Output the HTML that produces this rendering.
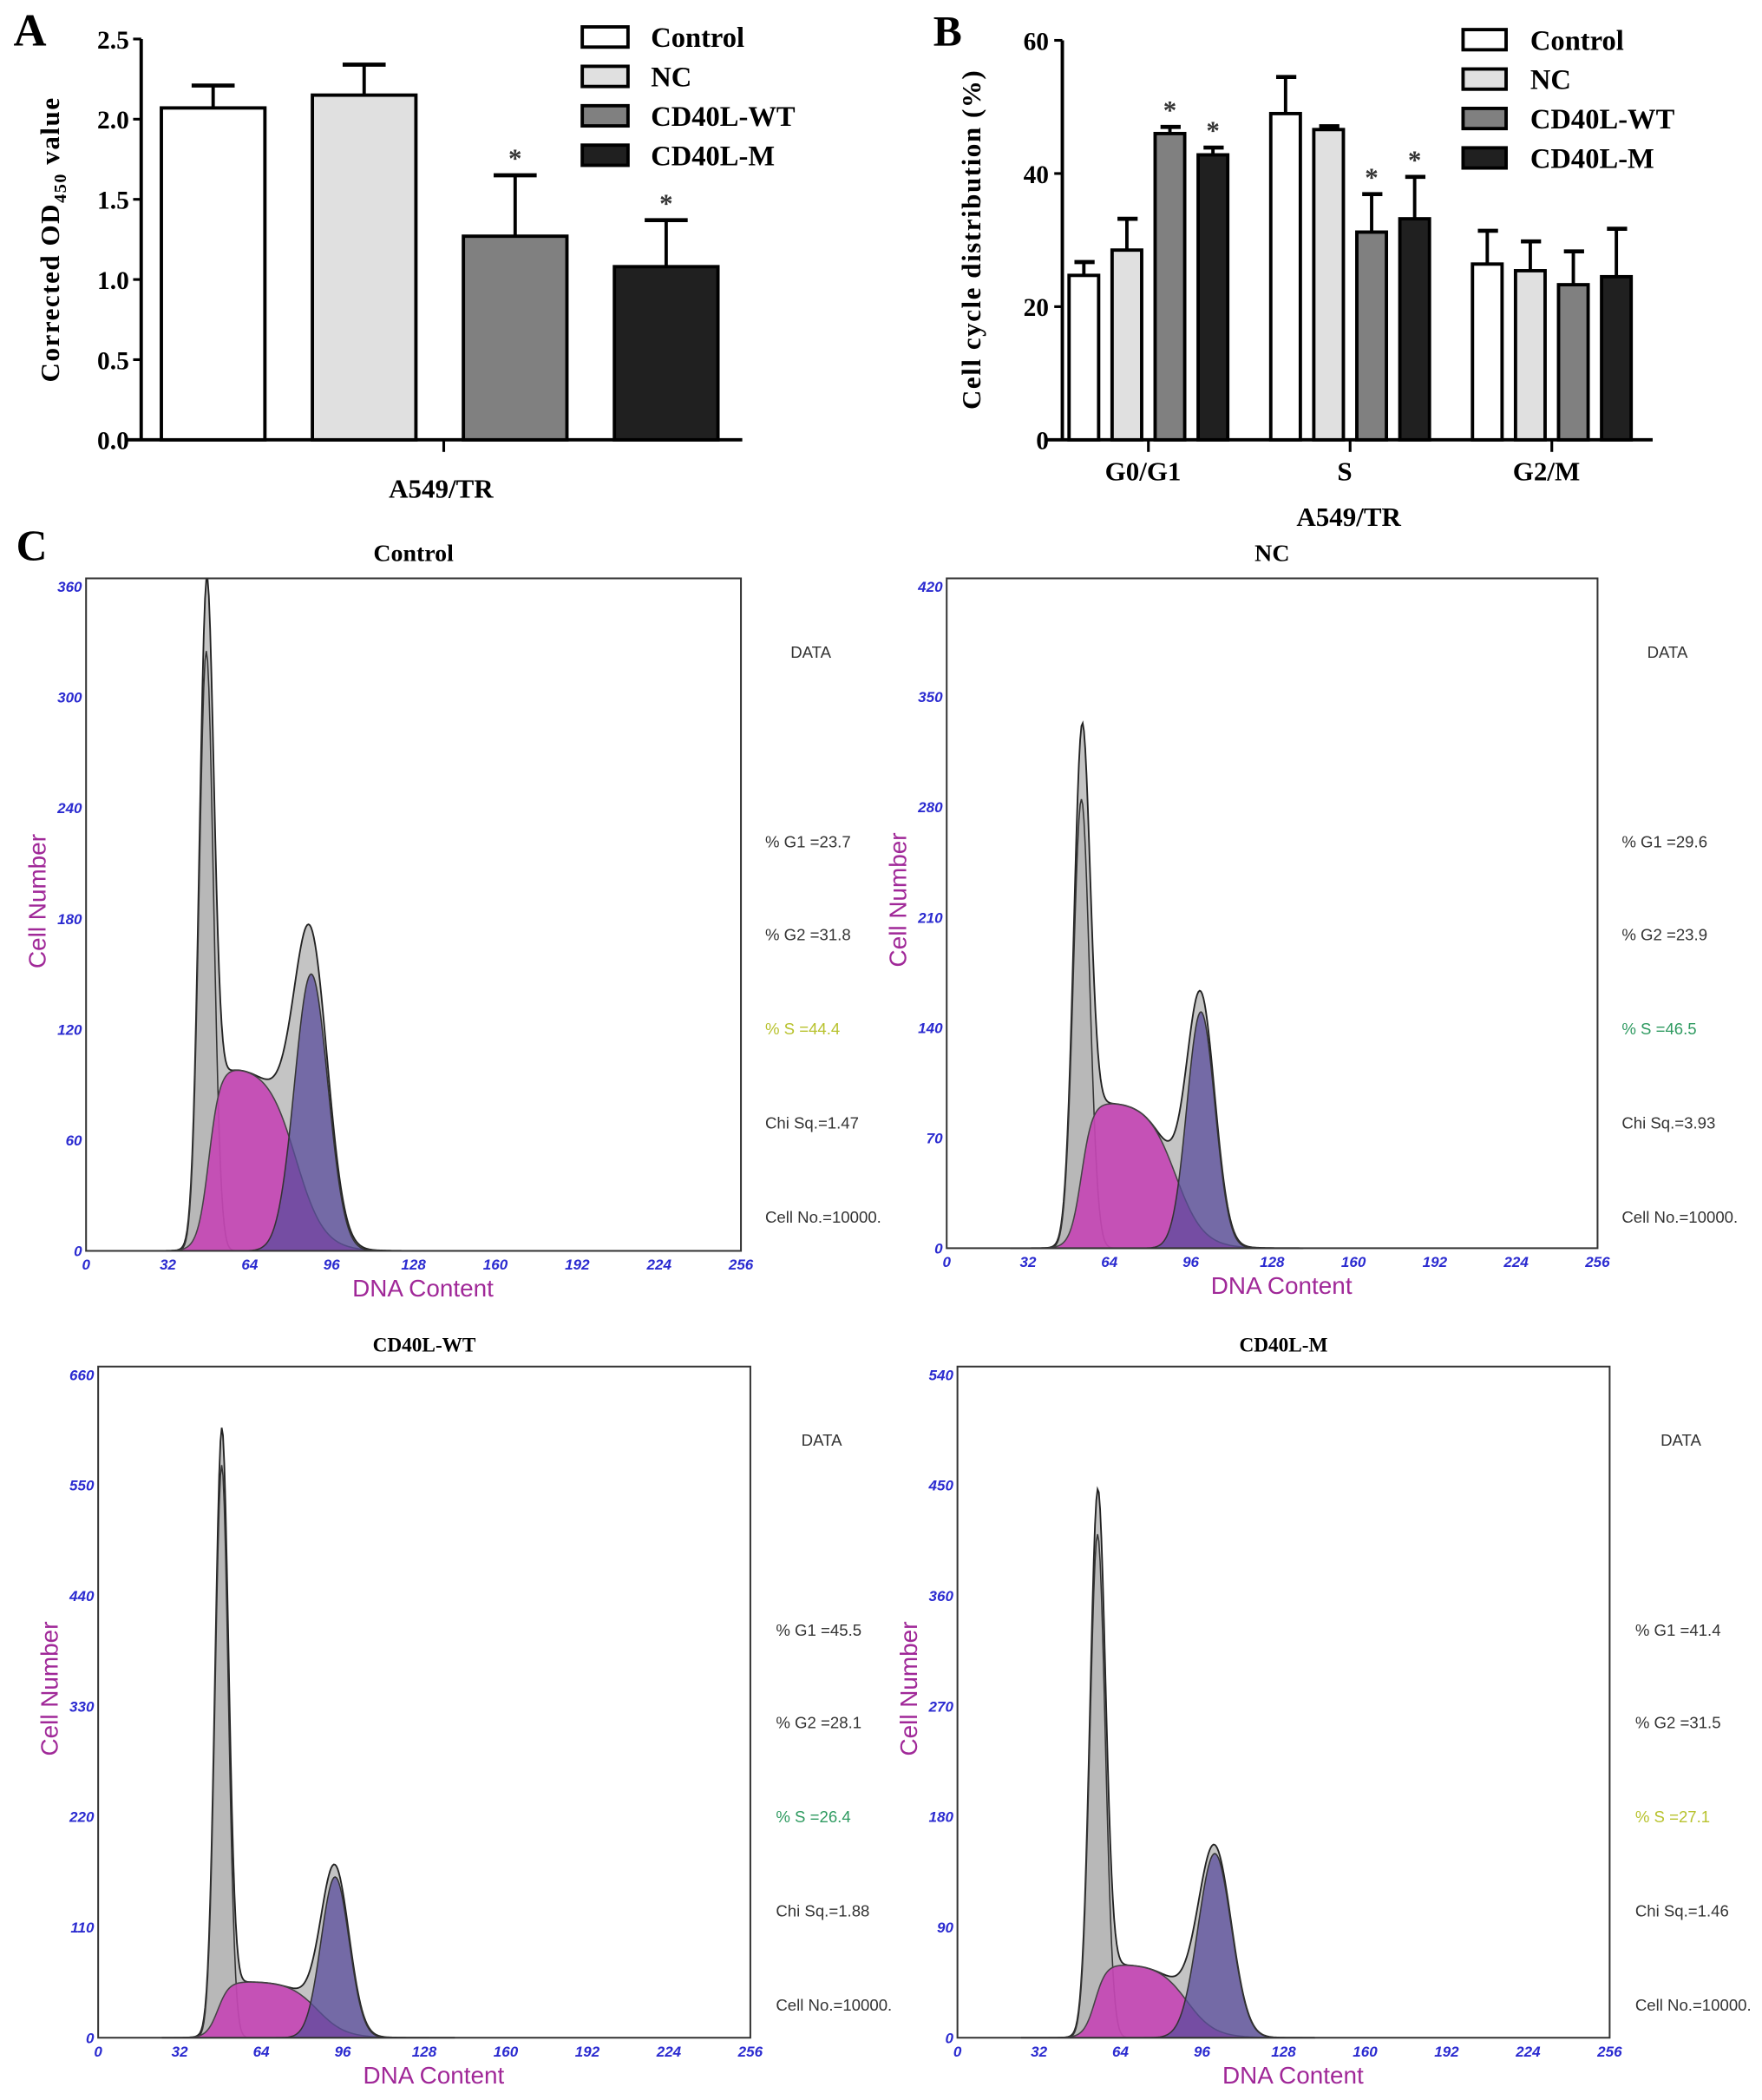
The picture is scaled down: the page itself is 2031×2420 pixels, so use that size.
<!DOCTYPE html>
<html><head><meta charset="utf-8"><style>
html,body{margin:0;padding:0;background:#fff}
svg{display:block}
.serif{font-family:"Liberation Serif",serif;font-weight:bold}
.sans{font-family:"Liberation Sans",sans-serif}
</style></head><body>
<svg id="fig" width="2031" height="2420" viewBox="0 0 1310.3 1561.3" preserveAspectRatio="none" xmlns="http://www.w3.org/2000/svg">
<g id="A"></g>
<g id="B"></g>
<g id="C"></g>
</svg>
<script>
// ---- Panel A data ----
const aGroups = ["Control","NC","CD40L-WT","CD40L-M"];
const aValues = [2.07, 2.15, 1.27, 1.08];
const aErrors = [0.14, 0.19, 0.38, 0.29];
const aStars = [false, false, true, true];
const aTicks = [0.0, 0.5, 1.0, 1.5, 2.0, 2.5];
const fills = ["#ffffff","#e0e0e0","#808080","#202020"];
// ---- Panel B data ----
const bPhases = ["G0/G1","S","G2/M"];
const bControl = [24.7, 49.0, 26.4];
const bNC = [28.5, 46.6, 25.4];
const bWT = [46.0, 31.2, 23.3];
const bM = [42.8, 33.2, 24.5];
const bErrControl = [2.0, 5.5, 5.0];
const bErrNC = [4.7, 0.5, 4.4];
const bErrWT = [1.0, 5.7, 5.0];
const bErrM = [1.1, 6.3, 7.2];
const bStarWT = [true, true, false];
const bStarM = [true, true, false];
const bTicks = [0, 20, 40, 60];
// ---- Panel C data (fitted model components per sample) ----
const cTitles = ["Control","NC","CD40L-WT","CD40L-M"];
const cYMax = [360, 420, 660, 540];
const cG1Mean = [47, 53, 48.5, 55];
const cG1Sd = [2.8, 3.2, 2.6, 3.0];
const cG1Height = [325, 285, 570, 410];
const cSHeight = [100, 93, 56, 60];
const cSStart = [53, 58, 52, 59];
const cSEnd = [82, 90, 86, 90];
const cG2Mean = [88, 100, 93, 101];
const cG2Sd = [6.5, 5.5, 5.5, 6.5];
const cG2Height = [150, 150, 160, 150];
const cG1Pct = ["23.7","29.6","45.5","41.4"];
const cG2Pct = ["31.8","23.9","28.1","31.5"];
const cSPct = ["44.4","46.5","26.4","27.1"];
const cChi = ["1.47","3.93","1.88","1.46"];
const cXTicks = [0,32,64,96,128,160,192,224,256];

const NS="http://www.w3.org/2000/svg";
function el(parent, tag, attrs, text){
  const e=document.createElementNS(NS,tag);
  for(const k in attrs) e.setAttribute(k,attrs[k]);
  if(text!==undefined) e.textContent=text;
  parent.appendChild(e); return e;
}

// ===== Panel A =====
(function(){
  const g=document.getElementById('A');
  const x0=105, yB=327, yT=29;
  const y=v=>yB-(v-0)/(2.5)*(yB-yT);
  const barX=i=>120+i*112.3, bw=77;
  let t=el(g,'text',{x:10,y:34,'font-size':34,class:'serif'},'A');
   
  let ax=el(g,'line',{x1:x0,y1:yT,x2:x0,y2:yB+1,stroke:'#000','stroke-width':2.5});
   
  let xa=el(g,'line',{x1:95,y1:yB,x2:552,y2:yB,stroke:'#000','stroke-width':2.5});
   
  el(g,'line',{x1:330,y1:yB,x2:330,y2:yB+9,stroke:'#000','stroke-width':2});
  aTicks.forEach(v=>{
    el(g,'line',{x1:x0-6,y1:y(v),x2:x0,y2:y(v),stroke:'#000','stroke-width':2});
    let tl=el(g,'text',{x:x0-9,y:y(v)+7,'font-size':19,'text-anchor':'end',class:'serif'},v.toFixed(1));
     
  });
  aValues.forEach((v,i)=>{
    const bx=barX(i), cx=bx+bw/2, top=y(v), et=y(v+aErrors[i]);
    el(g,'line',{x1:cx,y1:top,x2:cx,y2:et,stroke:'#000','stroke-width':2.5});
    el(g,'line',{x1:cx-16,y1:et,x2:cx+16,y2:et,stroke:'#000','stroke-width':3});
    let r=el(g,'rect',{x:bx,y:top,width:bw,height:yB-top,fill:fills[i],stroke:'#000','stroke-width':2.5});
    
    
    if(aStars[i]){ el(g,'text',{x:cx,y:et-6,'font-size':20,'text-anchor':'middle',class:'serif',fill:'#333'},'*'); }
  });
  let xl=el(g,'text',{x:328,y:370,'font-size':20,'text-anchor':'middle',class:'serif'},'A549/TR');
   
  let yl=el(g,'text',{transform:'translate(44,178) rotate(-90)','font-size':20,'text-anchor':'middle',class:'serif','letter-spacing':'1'});
   
  el(yl,'tspan',{},'Corrected  OD');
  el(yl,'tspan',{'font-size':13,dy:5},'450');
  el(yl,'tspan',{dy:-5},' value');
  aGroups.forEach((n,i)=>{
    const ly=20+i*29.3;
    let lr=el(g,'rect',{x:433,y:ly,width:34,height:15,fill:fills[i],stroke:'#000','stroke-width':2.5});
     
    let lt=el(g,'text',{x:484,y:ly+15,'font-size':21,class:'serif'},n);
     
  });
})();

// ===== Panel B =====
(function(){
  const g=document.getElementById('B');
  const x0=790, yB=327, yT=30;
  const y=v=>yB-v/60*(yB-yT);
  const series=[bControl,bNC,bWT,bM], errs=[bErrControl,bErrNC,bErrWT,bErrM];
  const groupStart=p=>795+p*150, step=32, bw=22;
  let t=el(g,'text',{x:694,y:34,'font-size':32,class:'serif'},'B');
   
  let ax=el(g,'line',{x1:x0,y1:yT,x2:x0,y2:yB+1,stroke:'#000','stroke-width':2.5});
   
  let xa=el(g,'line',{x1:778,y1:yB,x2:1229,y2:yB,stroke:'#000','stroke-width':2.5});
   
  bTicks.forEach(v=>{
    el(g,'line',{x1:x0-6,y1:y(v),x2:x0,y2:y(v),stroke:'#000','stroke-width':2});
    let tl=el(g,'text',{x:x0-10,y:y(v)+7,'font-size':19,'text-anchor':'end',class:'serif'},String(v));
     
  });
  bPhases.forEach((ph,p)=>{
    const gc=groupStart(p)+(3*step+bw)/2;
    el(g,'line',{x1:gc,y1:yB,x2:gc,y2:yB+9,stroke:'#000','stroke-width':2});
    let tl=el(g,'text',{x:gc-4,y:357,'font-size':20,'text-anchor':'middle',class:'serif'},ph);
     
    series.forEach((s,i)=>{
      const bx=groupStart(p)+i*step, cx=bx+bw/2, top=y(s[p]), et=y(s[p]+errs[i][p]);
      el(g,'line',{x1:cx,y1:top,x2:cx,y2:et,stroke:'#000','stroke-width':2.5});
      el(g,'line',{x1:cx-7,y1:et,x2:cx+8,y2:et,stroke:'#000','stroke-width':3});
      let r=el(g,'rect',{x:bx,y:top,width:bw,height:yB-top,fill:fills[i],stroke:'#000','stroke-width':2.5});
      
      
      const star=(i===2&&bStarWT[p])||(i===3&&bStarM[p]);
      if(star) el(g,'text',{x:cx,y:et-6,'font-size':20,'text-anchor':'middle',class:'serif',fill:'#333'},'*');
    });
  });
  let xl=el(g,'text',{x:1003,y:391,'font-size':20,'text-anchor':'middle',class:'serif'},'A549/TR');
   
  let yl=el(g,'text',{transform:'translate(729,178) rotate(-90)','font-size':20,'text-anchor':'middle',class:'serif','letter-spacing':'1'},'Cell cycle distribution (%)');
   
  aGroups.forEach((n,i)=>{
    const ly=22+i*29.3;
    let lr=el(g,'rect',{x:1088,y:ly,width:32,height:15,fill:fills[i],stroke:'#000','stroke-width':2.5});
     
    let lt=el(g,'text',{x:1138,y:ly+15,'font-size':21,class:'serif'},n);
     
  });
})();

// ===== Panel C =====
(function(){
  const g=document.getElementById('C');
  let t=el(g,'text',{x:12,y:416,'font-size':32,class:'serif'},'C');
   
  const boxes=[
    {l:64,r:551,top:430,bot:930,tx:569,tt:417,sCol:'#b8c22e'},
    {l:704,r:1188,top:430,bot:928,tx:1206,tt:417,sCol:'#2e9a60'},
    {l:73,r:558,top:1016,bot:1515,tx:577,tt:1005,sCol:'#2e9a60'},
    {l:712,r:1197,top:1016,bot:1515,tx:1216,tt:1005,sCol:'#b8c22e'}
  ];
  const sig=z=>1/(1+Math.exp(-z));
  boxes.forEach((b,k)=>{
    const pg=el(g,'g',{});
    
    
    const X=c=>b.l+c/256*(b.r-b.l);
    const Y=v=>b.bot-v/cYMax[k]*(b.bot-b.top-6);
    const g1=c=>cG1Height[k]*Math.exp(-0.5*Math.pow((c-cG1Mean[k])/cG1Sd[k],2));
    const g2=c=>cG2Height[k]*Math.exp(-0.5*Math.pow((c-cG2Mean[k])/cG2Sd[k],2));
    const sp=c=>cSHeight[k]*sig((c-cSStart[k]+5)/2.2)*sig((cSEnd[k]-c)/5.5);
    const path=f=>{
      let d='M'+X(25)+','+b.bot;
      for(let c=25;c<=140;c+=0.5) d+=' L'+X(c).toFixed(2)+','+Y(f(c)).toFixed(2);
      return d+' L'+X(140)+','+b.bot+' Z';
    };
    el(pg,'path',{d:path(c=>g1(c)+g2(c)+sp(c)),fill:'#c4c4c4',stroke:'#222','stroke-width':1.2});
    el(pg,'path',{d:path(g1),fill:'#b8b8b8',stroke:'#333','stroke-width':1});
    el(pg,'path',{d:path(sp),fill:'#c447b4',stroke:'#444','stroke-width':1,'fill-opacity':0.92});
    el(pg,'path',{d:path(g2),fill:'#5a4c9c',stroke:'#333','stroke-width':1,'fill-opacity':0.75});
    let bx=el(pg,'rect',{x:b.l,y:b.top,width:b.r-b.l,height:b.bot-b.top,fill:'none',stroke:'#333','stroke-width':1.3});
     
    let ti=el(pg,'text',{x:(b.l+b.r)/2,y:b.tt,'font-size':k<2?18:15,'text-anchor':'middle',class:'serif'},cTitles[k]);
     
    for(let j=0;j<=6;j++){
      const v=cYMax[k]*j/6;
      let tl=el(pg,'text',{x:b.l-3,y:Y(v)+4,'font-size':11,'text-anchor':'end','font-style':'italic','font-weight':'bold',fill:'#2b2bd0',class:'sans'},String(Math.round(v)));
       
    }
    cXTicks.forEach(v=>{
      let tl=el(pg,'text',{x:X(v),y:b.bot+14,'font-size':11,'text-anchor':'middle','font-style':'italic','font-weight':'bold',fill:'#2b2bd0',class:'sans'},String(v));
       
    });
    let xl=el(pg,'text',{x:(b.l+b.r)/2+7,y:b.bot+34,'font-size':18,'text-anchor':'middle',fill:'#a02898',class:'sans'},'DNA Content');
     
    let yl=el(pg,'text',{transform:'translate('+(b.l-30)+','+((b.top+b.bot)/2-10)+') rotate(-90)','font-size':18,'text-anchor':'middle',fill:'#a02898',class:'sans'},'Cell Number');
     
    const ry=b.top+57, fs=12;
    const lines=[['DATA','#333',b.tx+34,'middle'],['% G1 ='+cG1Pct[k],'#333',b.tx,'start'],['% G2 ='+cG2Pct[k],'#333',b.tx,'start'],['% S  ='+cSPct[k],b.sCol,b.tx,'start'],['Chi Sq.='+cChi[k],'#333',b.tx,'start'],['Cell No.=10000.','#333',b.tx,'start']];
    const ys=[0,141,210,280,350,420];
    lines.forEach((ln,j)=>{
      let st=el(pg,'text',{x:ln[2],y:ry+ys[j]+2,'font-size':fs,'text-anchor':ln[3],fill:ln[1],class:'sans'},ln[0]);
       
    });
  });
})();
</script>
</body></html>
